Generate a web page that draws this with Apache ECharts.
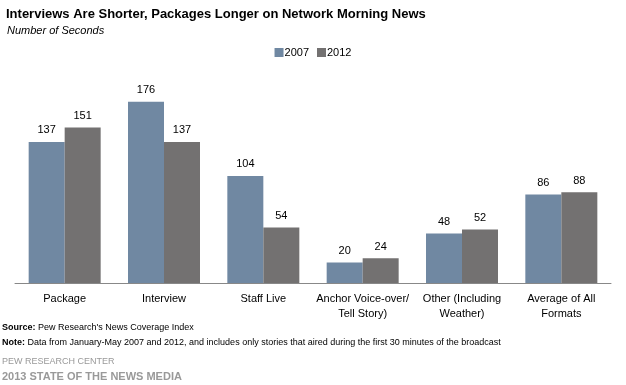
<!DOCTYPE html>
<html><head><meta charset="utf-8">
<script src="https://cdn.jsdelivr.net/npm/echarts@6/dist/echarts.min.js"></script>
<style>html,body{margin:0;padding:0;background:#fff}#c{width:626px;height:385px}</style>
</head><body><div id="c"></div>
<script>
const categories = ['Package', 'Interview', 'Staff Live', 'Anchor Voice-over/\nTell Story)', 'Other (Including\nWeather)', 'Average of All\nFormats'];
const values2007 = [137, 176, 104, 20, 48, 86];
const values2012 = [151, 137, 54, 24, 52, 88];
const seriesNames = ['2007', '2012'];

const ff = '"Liberation Sans", Arial, sans-serif';
const chart = echarts.init(document.getElementById('c'), null, {renderer: 'canvas'});
chart.setOption({
  animation: false,
  textStyle: {fontFamily: ff},
  title: [
    {text: 'Interviews Are Shorter, Packages Longer on Network Morning News', left: 1, top: 3,
     textStyle: {fontFamily: ff, fontSize: 13, fontWeight: 'bold', color: '#000'}},
    {text: 'Number of Seconds', left: 2, top: 20,
     textStyle: {fontFamily: ff, fontSize: 11, fontStyle: 'italic', fontWeight: 'normal', color: '#000'}}
  ],
  legend: {data: seriesNames, top: 42, left: 'center', itemWidth: 9, itemHeight: 9, itemGap: 8,
    icon: 'rect', textStyle: {fontFamily: ff, fontSize: 11, color: '#000', padding: [0,0,0,-4]}},
  grid: {left: 15, right: 15, top: 77, bottom: 102},
  xAxis: {type: 'category', data: categories,
    axisLine: {lineStyle: {color: '#888'}}, axisTick: {show: false},
    axisLabel: {fontFamily: ff, fontSize: 11, color: '#000', margin: 8, lineHeight: 15, interval: 0}},
  yAxis: {type: 'value', min: 0, max: 200, show: false},
  series: [
    {name: seriesNames[0], type: 'bar', data: values2007, barWidth: 36, barGap: '0%',
     itemStyle: {color: '#7088a2'},
     label: {show: true, position: 'top', fontFamily: ff, fontSize: 11, color: '#000', distance: 6}},
    {name: seriesNames[1], type: 'bar', data: values2012, barWidth: 36,
     itemStyle: {color: '#737171'},
     label: {show: true, position: 'top', fontFamily: ff, fontSize: 11, color: '#000', distance: 6}}
  ],
  graphic: [
    {type: 'text', left: 2, top: 323, style: {rich: {b: {fontWeight: 'bold', fontSize: 9, fontFamily: ff}, n: {fontSize: 9, fontFamily: ff}}, text: '{b|Source:}{n| Pew Research\'s News Coverage Index}', fill: '#000'}},
    {type: 'text', left: 2, top: 338, style: {rich: {b: {fontWeight: 'bold', fontSize: 9, fontFamily: ff}, n: {fontSize: 9, fontFamily: ff}}, text: '{b|Note:}{n| Data from January-May 2007 and 2012, and includes only stories that aired during the first 30 minutes of the broadcast}', fill: '#000'}},
    {type: 'text', left: 2, top: 357, style: {text: 'PEW RESEARCH CENTER', font: '9px ' + ff, fill: '#999'}},
    {type: 'text', left: 2, top: 371, style: {text: '2013 STATE OF THE NEWS MEDIA', font: 'bold 11px ' + ff, fill: '#999'}}
  ]
});
</script></body></html>
